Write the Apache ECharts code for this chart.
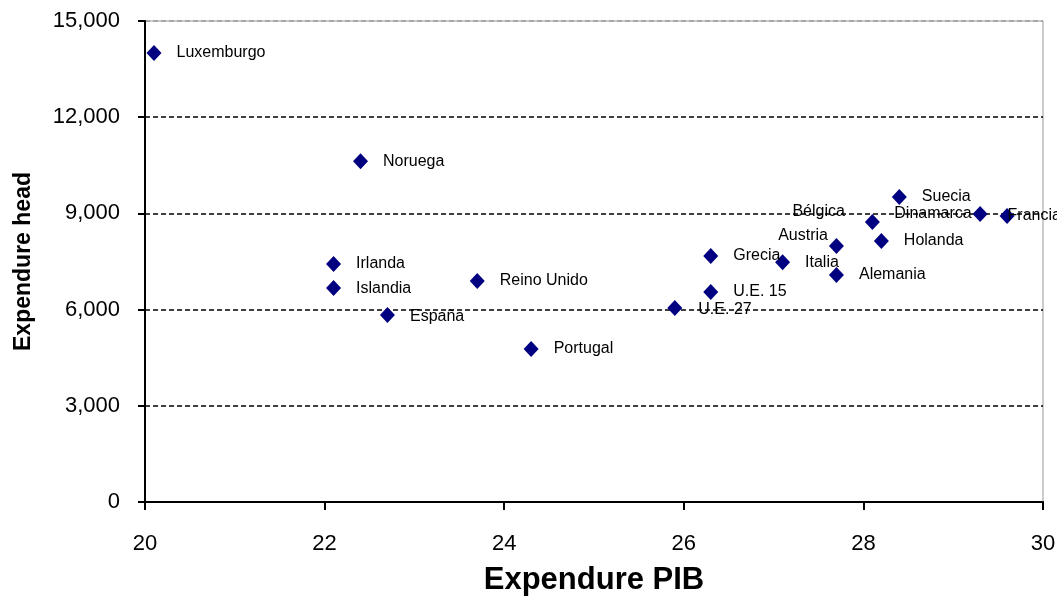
<!DOCTYPE html>
<html>
<head>
<meta charset="utf-8">
<script src="https://cdn.jsdelivr.net/npm/echarts@6/dist/echarts.min.js"></script>
<style>
  html, body { margin: 0; padding: 0; background: #fff; }
  #main { width: 1057px; height: 596px; }
</style>
</head>
<body>
<div id="main"></div>
<script>
// datos
var countries = ['Luxemburgo', 'Noruega', 'Irlanda', 'Islandia', 'Reino Unido', 'España', 'Portugal',
  'U.E. 27', 'Grecia', 'U.E. 15', 'Italia', 'Austria', 'Alemania', 'Bélgica', 'Holanda', 'Suecia',
  'Dinamarca', 'Francia'];
var pib = [20.1, 22.4, 22.1, 22.1, 23.7, 22.7, 24.3, 25.9, 26.3, 26.3, 27.1, 27.7, 27.7, 28.1, 28.2, 28.4, 29.3, 29.6];
var head = [14000, 10630, 7420, 6670, 6890, 5830, 4770, 6050, 7670, 6550, 7480, 7980, 7080, 8730, 8140, 9510, 8980, 8920];
var xTicks = [20, 22, 24, 26, 28, 30];
var yTicks = [0, 3000, 6000, 9000, 12000, 15000];

// colocacion de algunas etiquetas
var labelFix = {
  'Bélgica': { position: 'left', distance: 20, offset: [0, -10] },
  'Austria': { position: 'left', distance: 1, offset: [0, -11] },
  'Dinamarca': { position: 'left', distance: 1, offset: [0, 0] },
  'Francia': { position: 'right', distance: -7, offset: [0, 0] },
  'España': { position: 'right', distance: 15, offset: [0, 2] },
  'U.E. 27': { position: 'right', distance: 16, offset: [0, 2] }
};

var chart = echarts.init(document.getElementById('main'), null, { renderer: 'canvas' });

var points = countries.map(function (c, i) {
  var p = { name: c, value: [pib[i], head[i]] };
  if (labelFix[c]) p.label = labelFix[c];
  return p;
});

var option = {
  backgroundColor: '#fff',
  animation: false,
  grid: {
    left: 145, right: 14, top: 21, bottom: 94,
    outerBoundsMode: 'none',
    show: true, borderColor: '#999', borderWidth: 1
  },
  xAxis: {
    type: 'value',
    min: 20, max: 30, interval: 2,
    name: 'Expendure PIB',
    nameLocation: 'middle',
    nameGap: 63,
    nameTextStyle: { fontFamily: 'Liberation Sans', fontSize: 31, fontWeight: 'bold', color: '#000' },
    axisLine: { show: true, lineStyle: { color: '#000', width: 2 } },
    axisTick: { show: true, inside: false, length: 8, lineStyle: { color: '#000', width: 2 } },
    axisLabel: { fontFamily: 'Liberation Sans', fontSize: 22, color: '#000', margin: 31 },
    splitLine: { show: false }
  },
  yAxis: {
    type: 'value',
    min: 0, max: 15000, interval: 3000,
    name: 'Expendure head',
    nameLocation: 'middle',
    nameGap: 110,
    nameTextStyle: { fontFamily: 'Liberation Sans', fontSize: 23, fontWeight: 'bold', color: '#000' },
    axisLine: { show: true, lineStyle: { color: '#000', width: 2 } },
    axisTick: { show: true, inside: false, length: 7, lineStyle: { color: '#000', width: 2 } },
    axisLabel: {
      fontFamily: 'Liberation Sans', fontSize: 22, color: '#000', margin: 25,
      formatter: function (v) { return v.toLocaleString('en-US'); }
    },
    splitLine: {
      show: true,
      lineStyle: { color: ['#000', '#000', '#000', '#000', '#000', '#999'], type: [5, 3], width: 1.5 }
    }
  },
  series: [{
    type: 'scatter',
    symbol: 'diamond',
    symbolSize: [15, 16],
    itemStyle: { color: '#000080', opacity: 1 },
    label: {
      show: true,
      position: 'right',
      distance: 15,
      formatter: '{b}',
      fontFamily: 'Liberation Sans',
      fontSize: 16,
      color: '#000'
    },
    data: points
  }]
};

chart.setOption(option);
</script>
</body>
</html>
